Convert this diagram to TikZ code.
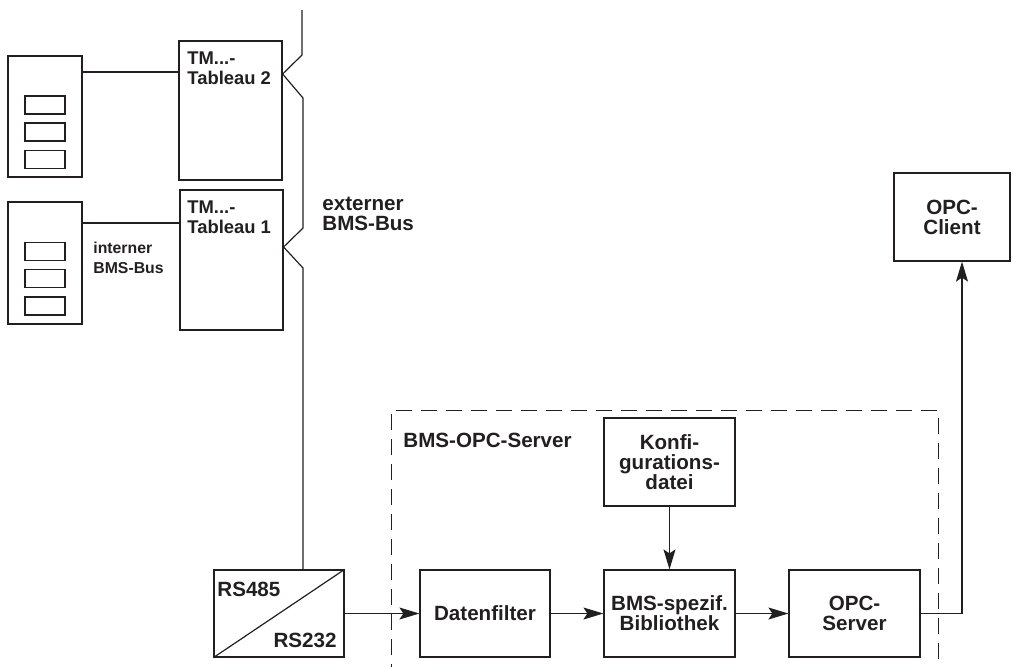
\documentclass[tikz,border=0pt]{standalone}
\usepackage{fontspec}
\setmainfont{Liberation Sans}
\usetikzlibrary{arrows.meta,calc}
\definecolor{ink}{RGB}{35,31,32}
\begin{document}
\begin{tikzpicture}[x=0.5pt,y=-0.5pt,
  line/.style={draw=ink,line width=0.6pt},
  box/.style={line,rectangle,inner sep=0pt,align=center,text=ink,
    font=\fontsize{10.3}{10}\selectfont\bfseries},
  slot/.style={line,rectangle,inner sep=0pt,minimum width=20pt,minimum height=9pt},
  lbl/.style={inner sep=0pt,text=ink,align=left},
  arr/.style={line,-{Stealth[length=10pt,width=6pt,inset=2pt]},fill=none}]
\useasboundingbox (0,0) rectangle (1013,666);

% field devices with their operating panels
\node[box,minimum width=37pt,minimum height=60.5pt] (dev2) at (45,116.5) {};
\node[slot] (s21) at (45,105) {};
\node[slot] (s22) at (45,132) {};
\node[slot] (s23) at (45,159.5) {};
\node[box,minimum width=37pt,minimum height=61pt] (dev1) at (45,263) {};
\node[slot] (s11) at (45,251.5) {};
\node[slot] (s12) at (45,278.5) {};
\node[slot] (s13) at (45,306) {};

% tableaux
\node[box,minimum width=51.5pt,minimum height=69.5pt] (tab2) at (230.5,110.5) {};
\node[box,minimum width=51.5pt,minimum height=70pt] (tab1) at (231.5,260) {};
\node[lbl,anchor=north west,font=\fontsize{9.2}{10}\selectfont\bfseries] (t2) at (187,51.5) {TM...-\\Tableau 2};
\node[lbl,anchor=north west,font=\fontsize{9.2}{10}\selectfont\bfseries] (t1) at (187,200.5) {TM...-\\Tableau 1};

% internal bus links
\draw[line] (dev2.east |- 0,72) -- (tab2.west |- 0,72);
\draw[line] (dev1.east |- 0,223) -- (tab1.west |- 0,223);
\node[lbl,anchor=north west,font=\fontsize{7.9}{10}\selectfont\bfseries] (ib) at (93,242) {interner\\BMS-Bus};

% converter
\node[box,minimum width=65pt,minimum height=43.5pt] (rs) at (279,613.5) {};
\draw[line] (rs.south west) -- (rs.north east);
\node[lbl,anchor=base west,font=\fontsize{10.3}{10}\selectfont\bfseries] (r485) at (217,596) {RS485};
\node[lbl,anchor=base east,font=\fontsize{10.3}{10}\selectfont\bfseries] (r232) at (337,647) {RS232};

% external bus
\coordinate (b0) at (302,10);
\coordinate (b1) at (302,55);
\coordinate (k2) at (tab2.east |- 0,74);
\coordinate (b2) at (303,98);
\coordinate (b3) at (303,228);
\coordinate (k1) at (tab1.east |- 0,247);
\coordinate (b4) at (303,268);
\coordinate (b5) at (rs.north -| 303,0);
\draw[line] (b0) -- (b1) -- (k2) -- (b2) -- (b3) -- (k1) -- (b4) -- (b5);
\node[lbl,anchor=north west,font=\fontsize{10.3}{10}\selectfont\bfseries] (eb) at (322,197) {externer\\BMS-Bus};

% server frame
\coordinate (f0) at (391,680);
\coordinate (f1) at (391,410);
\coordinate (f2) at (938,410);
\coordinate (f3) at (938,680);
\draw[draw=ink,line width=0.5pt,dash pattern=on 8pt off 4.5pt] (f0) -- (f1) -- (f2) -- (f3);
\node[lbl,anchor=base west,font=\fontsize{10.3}{10}\selectfont\bfseries] (srv) at (403,447) {BMS-OPC-Server};

% server components
\node[box,minimum width=65pt,minimum height=43.5pt] (df) at (485,613.5) {Datenfilter};
\node[box,minimum width=65.5pt,minimum height=43.5pt] (bib) at (669.5,613.5) {BMS-spezif.\\Bibliothek};
\node[box,minimum width=65.5pt,minimum height=44pt] (konf) at (669.5,462) {Konfi-\\gurations-\\datei};
\node[box,minimum width=65.5pt,minimum height=43.5pt] (opcs) at (854.5,613.5) {OPC-\\Server};
\node[box,minimum width=58pt,minimum height=44pt] (cl) at (952,217) {OPC-\\Client};

% data flow
\draw[arr] (rs.east |- df) -- (df.west);
\draw[arr] (df) -- (bib);
\draw[arr] (bib) -- (opcs);
\draw[arr] (konf) -- (bib);
\coordinate (turn) at (962,613.5);
\draw[arr] (opcs.east) -- (turn) -- (turn |- cl.south);
\end{tikzpicture}
\end{document}
